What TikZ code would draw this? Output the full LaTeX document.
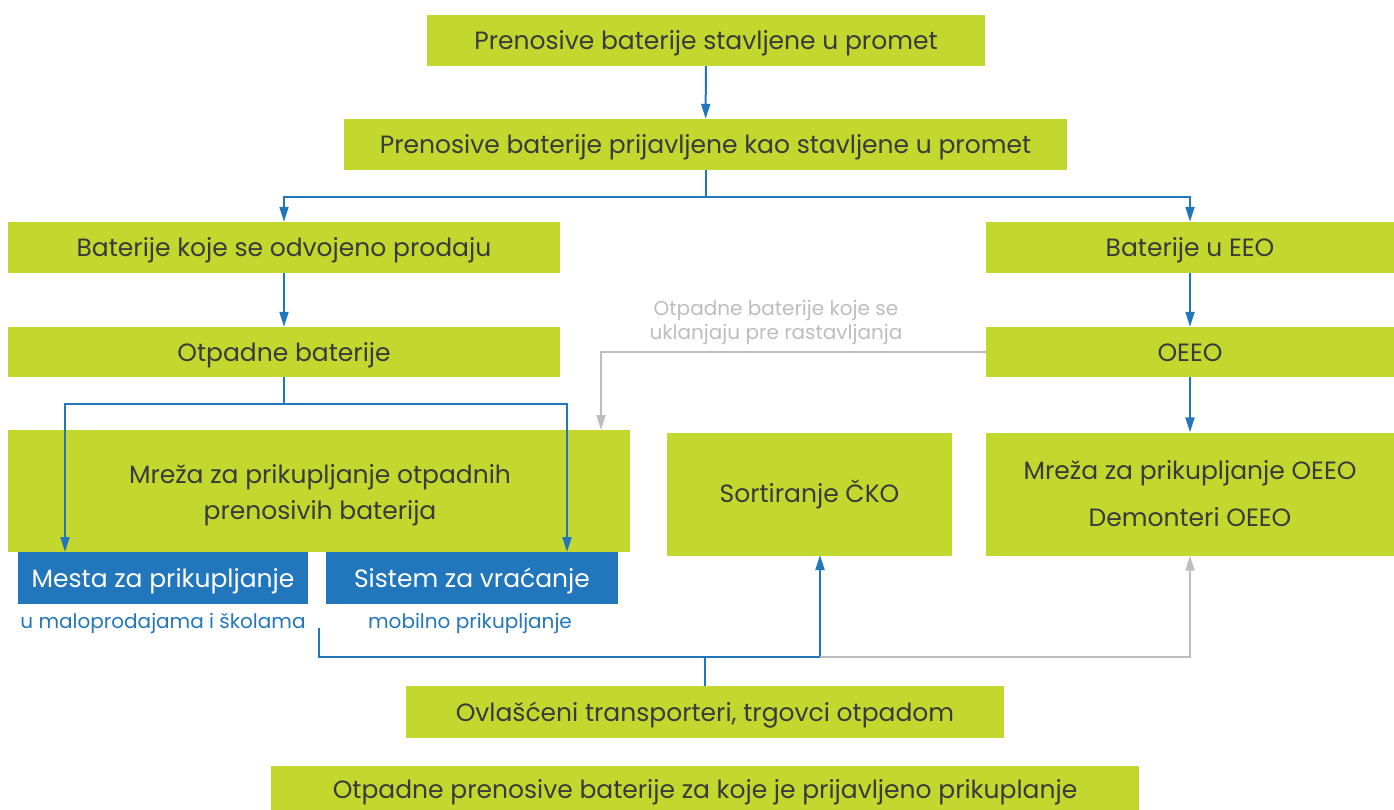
\documentclass[tikz,border=0pt]{standalone}
\usepackage{fontspec}
\setmainfont{Poppins}
\usetikzlibrary{arrows.meta}
\definecolor{lime}{HTML}{C2D82F}
\definecolor{flowblue}{HTML}{2276BC}
\definecolor{flowgrey}{HTML}{BDBDBD}
\definecolor{ink}{HTML}{3A3A3A}
\begin{document}
\begin{tikzpicture}[x=1pt, y=-1pt,
    box/.style={fill=lime, inner sep=0pt, text=ink, align=center, font=\fontsize{25}{36}\selectfont},
    oneline/.style={text height=24.5pt, text depth=6pt},
    bluebox/.style={fill=flowblue, inner sep=0pt, text=white, minimum height=52pt, oneline, font=\fontsize{25}{30}\selectfont},
    sub/.style={text=flowblue, font=\fontsize{20}{24}\selectfont},
    arr/.style={draw=flowblue, line width=2pt, -{Triangle[width=9pt,length=15pt]}},
    garr/.style={draw=flowgrey, line width=2pt, -{Triangle[width=9pt,length=15pt]}}]
    \useasboundingbox (0,0) rectangle (1394,809);
    % green boxes
    \node[box, oneline, minimum width=558pt, minimum height=51pt] (placed) at (706,40.5) {Prenosive baterije stavljene u promet};
    \node[box, oneline, minimum width=723pt, minimum height=51pt] (declared) at (705.5,144.5) {Prenosive baterije prijavljene kao stavljene u promet};
    \node[box, oneline, minimum width=552pt, minimum height=51pt] (separate) at (284,247.5) {Baterije koje se odvojeno prodaju};
    \node[box, oneline, minimum width=408pt, minimum height=51pt] (ineee) at (1190,247.5) {Baterije u EEO};
    \node[box, oneline, minimum width=552pt, minimum height=50pt] (waste) at (284,352) {Otpadne baterije};
    \node[box, oneline, minimum width=408pt, minimum height=50pt] (weee) at (1190,352) {OEEO};
    \node[box, minimum width=622pt, minimum height=122pt] (network) at (319,491) {};
    \node[box] at (320,495) {Mreža za prikupljanje otpadnih\\prenosivih baterija};
    \node[box, minimum width=285pt, minimum height=123pt] (sorting) at (809.5,494) {Sortiranje ČKO};
    \node[box, minimum width=408pt, minimum height=123pt, font=\fontsize{25}{47}\selectfont] (weeenet) at (1190,494) {Mreža za prikupljanje OEEO\\Demonteri OEEO};
    \node[box, oneline, minimum width=598pt, minimum height=52pt] (carriers) at (705,712) {Ovlašćeni transporteri, trgovci otpadom};
    \node[box, oneline, minimum width=868pt, minimum height=46pt] (reported) at (705,789) {Otpadne prenosive baterije za koje je prijavljeno prikuplanje};
    % blue boxes and their notes
    \node[bluebox, minimum width=290pt] (points) at (163,578) {Mesta za prikupljanje};
    \node[bluebox, minimum width=292pt] (takeback) at (472,578) {Sistem za vraćanje};
    \node[sub] (pointsnote) at (163,623) {u maloprodajama i školama};
    \node[sub] (takebacknote) at (470,623) {mobilno prikupljanje};
    \node[text=flowgrey, align=center, font=\fontsize{20}{24}\selectfont] (removed) at (776,322) {Otpadne baterije koje se\\uklanjaju pre rastavljanja};
    % free ends
    \coordinate (inpoints) at (65,552);
    \coordinate (intakeback) at (567,552);
    \coordinate (innetwork) at (601,430);
    \coordinate (start) at (319,628);
    \coordinate (split) at (820,657);
    \coordinate (insorting) at (820,555);
    % blue flow
    \draw[arr] (placed) -- (declared);
    \draw[arr] (declared.south) -- ++(0,27) -| (separate.north);
    \draw[arr] (declared.south) -- ++(0,27) -| (ineee.north);
    \draw[arr] (separate) -- (waste);
    \draw[arr] (ineee) -- (weee);
    \draw[arr] (waste.south) -- ++(0,27) -| (inpoints);
    \draw[arr] (waste.south) -- ++(0,27) -| (intakeback);
    \draw[arr] (weee) -- (weeenet);
    \draw[arr] (start) |- (split) -- (insorting);
    \draw[draw=flowblue, line width=2pt] (carriers.north) -- ++(0,-29);
    % grey flow
    \draw[garr] (weee.west) -| (innetwork);
    \draw[garr] (split) -| (weeenet.south);
\end{tikzpicture}
\end{document}
